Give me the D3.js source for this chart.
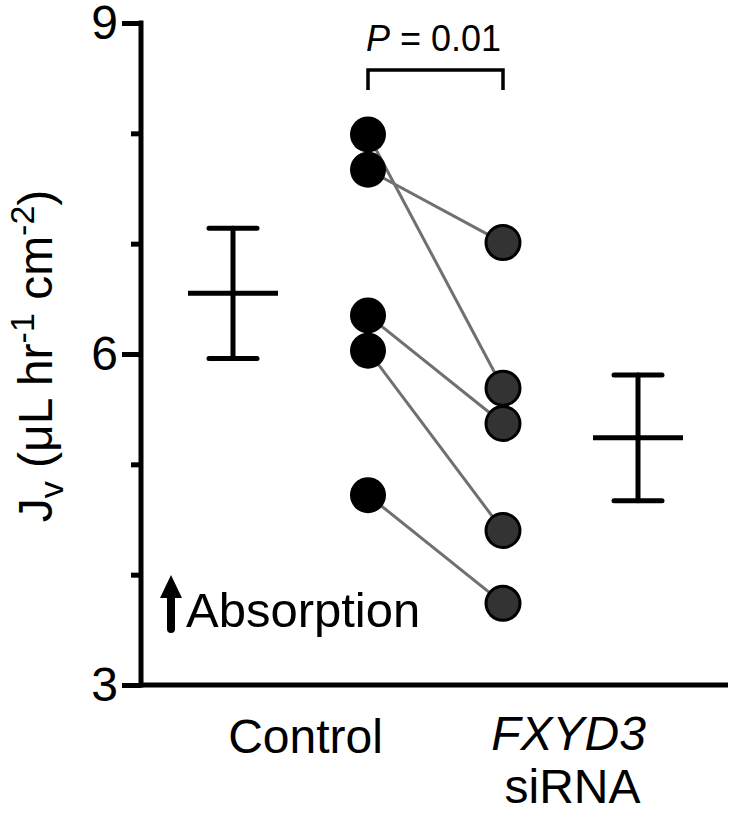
<!DOCTYPE html>
<html><head><meta charset="utf-8">
<script src="https://cdn.jsdelivr.net/npm/d3@7"></script>
<style>html,body{margin:0;padding:0;background:#fff;}svg{display:block;font-family:"Liberation Sans",Arial,Helvetica,sans-serif;}</style>
</head><body>
<svg id="chart" width="733" height="814"></svg>
<script>
const categories = ["Control", "FXYD3 siRNA"];
const controlValues = [7.99, 7.67, 6.35, 6.03, 4.72];
const fxyd3Values = [5.69, 7.01, 5.37, 4.40, 3.74];
const meanValues = [6.55, 5.24];
const semValues = [0.59, 0.57];
const majorTicks = [3, 6, 9];
const minorTicks = [4, 5, 7, 8];
const pLabel = "0.01";

const svg = d3.select("#chart");
const y = d3.scaleLinear().domain([3, 9]).range([685, 23]);
const slots = ["ctrlMean", "ctrlPts", "fxPts", "fxMean"];
const x = d3.scalePoint().domain(slots).range([233, 638]);
const axisX = 141;

// y axis
const gy = svg.append("g").attr("transform", `translate(${axisX},0)`);
gy.call(d3.axisLeft(y).tickValues(majorTicks).tickSize(19).tickPadding(4).tickFormat(d3.format("d")));
gy.selectAll(".domain").remove();
gy.selectAll(".tick line").attr("stroke", "#000").attr("stroke-width", 5);
gy.selectAll(".tick text").attr("font-size", 48).attr("fill", "#000").attr("font-family", "Liberation Sans, Arial, sans-serif");
const gm = svg.append("g").attr("transform", `translate(${axisX},0)`);
gm.call(d3.axisLeft(y).tickValues(minorTicks).tickSize(10).tickFormat(""));
gm.selectAll(".domain").remove();
gm.selectAll(".tick line").attr("stroke", "#000").attr("stroke-width", 5);
svg.append("line").attr("x1", axisX).attr("x2", axisX).attr("y1", y(9) - 2.5).attr("y2", y(3) + 2.5)
  .attr("stroke", "#000").attr("stroke-width", 5);
// x axis
svg.append("line").attr("x1", axisX).attr("x2", 728).attr("y1", y(3)).attr("y2", y(3))
  .attr("stroke", "#000").attr("stroke-width", 5);

// category labels
const labelCenters = [(x("ctrlMean") + x("ctrlPts")) / 2 + 5, (x("fxPts") + x("fxMean")) / 2 - 2];
svg.append("text").attr("x", labelCenters[0]).attr("y", 753).attr("text-anchor", "middle")
  .attr("font-size", 48).text(categories[0]);
const parts = categories[1].split(" ");
svg.append("text").attr("x", labelCenters[1]).attr("y", 750).attr("text-anchor", "middle")
  .attr("font-size", 48).attr("font-style", "italic").text(parts[0]);
svg.append("text").attr("x", labelCenters[1] + 4).attr("y", 803).attr("text-anchor", "middle")
  .attr("font-size", 48).text(parts[1]);

// y label
const yl = svg.append("text").attr("transform", `translate(52,${356}) rotate(-90)`)
  .attr("text-anchor", "middle").attr("font-size", 48);
yl.append("tspan").text("J");
yl.append("tspan").attr("font-size", 34).attr("dy", 11).text("v");
yl.append("tspan").attr("dy", -11).text(" (\u03bcL hr");
yl.append("tspan").attr("font-size", 34).attr("dy", -18).text("-1");
yl.append("tspan").attr("dy", 18).text(" cm");
yl.append("tspan").attr("font-size", 34).attr("dy", -18).text("-2");
yl.append("tspan").attr("dy", 18).text(")");

// pair lines
const pairs = controlValues.map((c, i) => ({c, f: fxyd3Values[i]}));
svg.append("g").selectAll("line").data(pairs).join("line")
  .attr("x1", x("ctrlPts")).attr("x2", x("fxPts"))
  .attr("y1", d => y(d.c)).attr("y2", d => y(d.f))
  .attr("stroke", "#707070").attr("stroke-width", 3);

// points
svg.append("g").selectAll("circle").data(controlValues).join("circle")
  .attr("cx", x("ctrlPts")).attr("cy", d => y(d)).attr("r", 18).attr("fill", "#000");
svg.append("g").selectAll("circle").data(fxyd3Values).join("circle")
  .attr("cx", x("fxPts")).attr("cy", d => y(d)).attr("r", 17).attr("fill", "#333")
  .attr("stroke", "#000").attr("stroke-width", 3);

// mean ± SEM
const meanSlots = ["ctrlMean", "fxMean"];
meanValues.forEach((m, i) => {
  const cx = x(meanSlots[i]);
  const g = svg.append("g").attr("stroke", "#000").attr("stroke-width", 5).attr("stroke-linecap", "round");
  g.append("line").attr("x1", cx).attr("x2", cx).attr("y1", y(m + semValues[i])).attr("y2", y(m - semValues[i]));
  g.append("line").attr("x1", cx - 24).attr("x2", cx + 24).attr("y1", y(m + semValues[i])).attr("y2", y(m + semValues[i]));
  g.append("line").attr("x1", cx - 24).attr("x2", cx + 24).attr("y1", y(m - semValues[i])).attr("y2", y(m - semValues[i]));
  g.append("line").attr("x1", cx - 45).attr("x2", cx + 45).attr("y1", y(m)).attr("y2", y(m)).attr("stroke-linecap", "butt");
});

// significance bracket
const bx1 = x("ctrlPts"), bx2 = x("fxPts");
svg.append("path").attr("d", `M${bx1},90V70H${bx2}V90`).attr("fill", "none")
  .attr("stroke", "#000").attr("stroke-width", 3.5);
const pt = svg.append("text").attr("x", (bx1 + bx2) / 2 - 2).attr("y", 51).attr("text-anchor", "middle").attr("font-size", 36);
pt.append("tspan").attr("font-style", "italic").text("P");
pt.append("tspan").text(" = " + pLabel);

// absorption arrow + text
svg.append("path")
  .attr("d", "M171,575 L182,598 L175,598 L175,629 A4,4 0 0 1 167,629 L167,598 L160,598 Z")
  .attr("fill", "#000");
svg.append("text").attr("x", 186).attr("y", 627).attr("font-size", 49).text("Absorption");
</script>
</body></html>
